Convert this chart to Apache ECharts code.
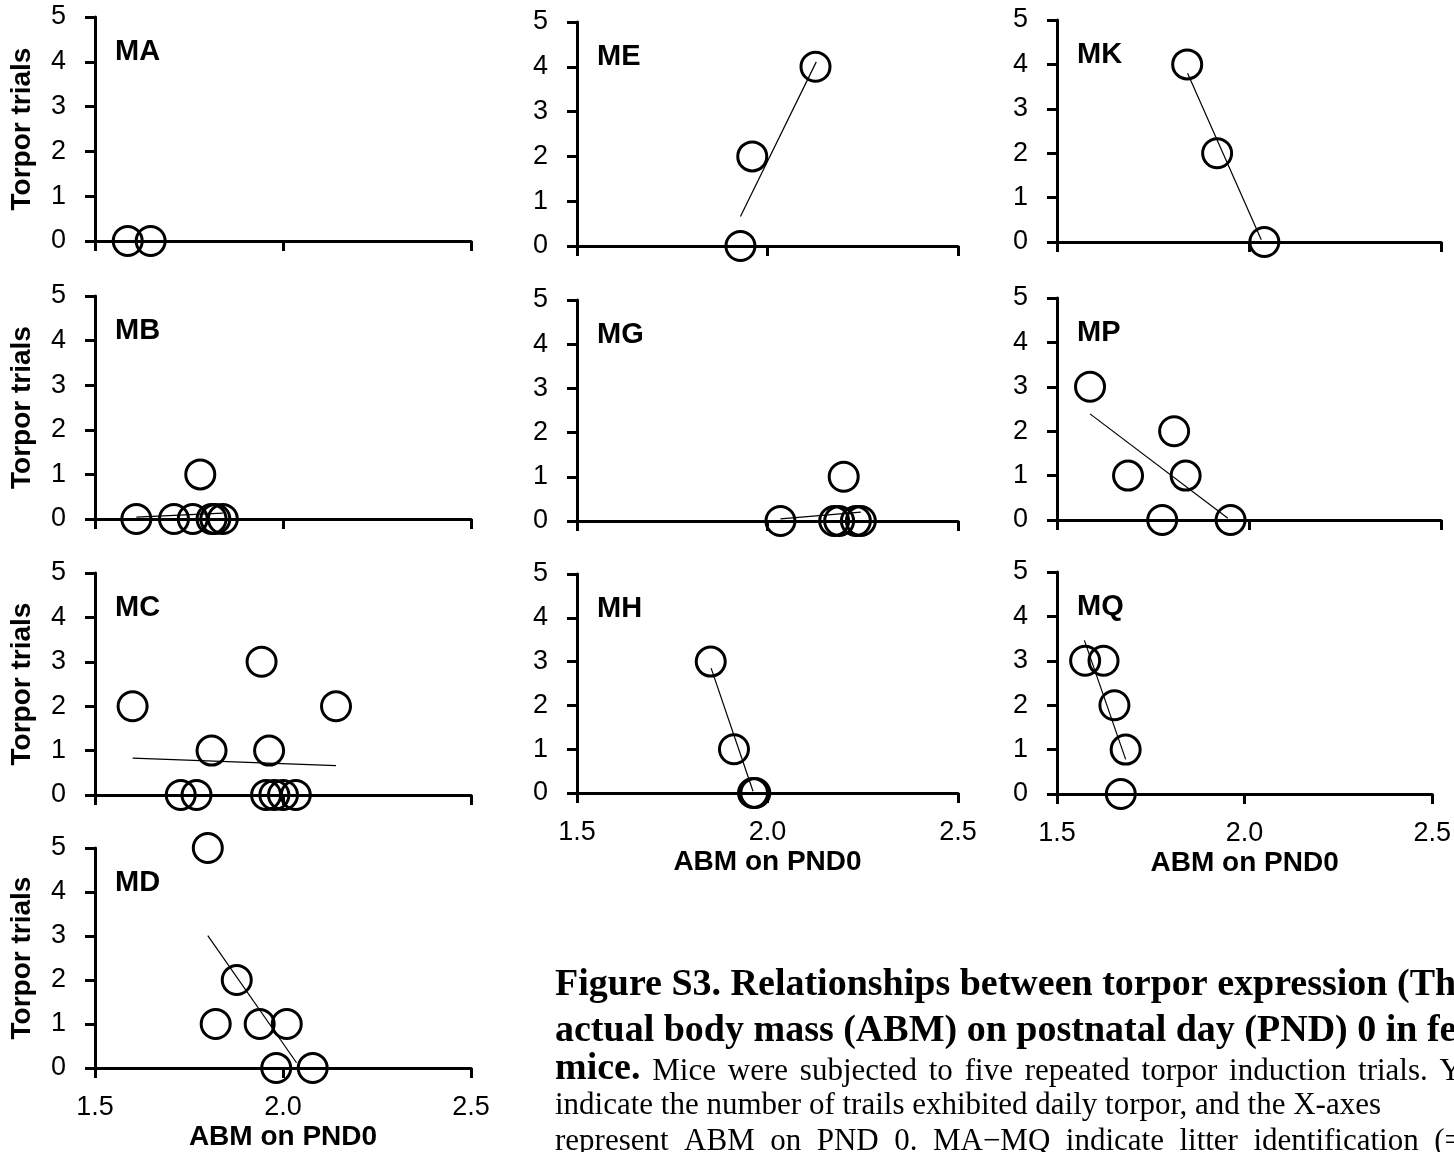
<!DOCTYPE html>
<html>
<head>
<meta charset="utf-8">
<script src="https://cdn.jsdelivr.net/npm/echarts@6/dist/echarts.min.js"></script>
<style>
html,body{margin:0;padding:0;background:#fff;overflow:hidden;}
#chart{width:1454px;height:1152px;}
</style>
</head>
<body>
<div id="chart"></div>
<script>
// ---- data (ABM on PND0 vs torpor trials) ----
const panelNames = ['MA','MB','MC','MD','ME','MG','MH','MK','MP','MQ'];

const MA_x = [1.587, 1.648];
const MA_y = [0, 0];
const MB_x = [1.61, 1.71, 1.76, 1.78, 1.81, 1.82, 1.84];
const MB_y = [0, 0, 0, 1, 0, 0, 0];
const MC_x = [1.600, 1.728, 1.770, 1.810, 1.943, 1.955, 1.963, 1.977, 2.000, 2.034, 2.141];
const MC_y = [2, 0, 0, 1, 3, 0, 1, 0, 0, 0, 2];
const MD_x = [1.800, 1.821, 1.877, 1.938, 1.982, 2.010, 2.079];
const MD_y = [5, 1, 2, 1, 0, 1, 0];
const ME_x = [1.929, 1.960, 2.126];
const ME_y = [0, 2, 4];
const MG_x = [2.034, 2.175, 2.188, 2.200, 2.232, 2.245];
const MG_y = [0, 0, 0, 1, 0, 0];
const MH_x = [1.851, 1.912, 1.962, 1.968];
const MH_y = [3, 1, 0, 0];
const MK_x = [1.839, 1.917, 2.040];
const MK_y = [4, 2, 0];
const MP_x = [1.586, 1.685, 1.774, 1.805, 1.835, 1.952];
const MP_y = [3, 1, 0, 2, 1, 0];
const MQ_x = [1.575, 1.624, 1.653, 1.670, 1.683];
const MQ_y = [3, 3, 2, 0, 1];

// trend line end points
const MA_trendX = [];             const MA_trendY = [];
const MB_trendX = [1.61, 1.84];   const MB_trendY = [0.04, 0.13];
const MC_trendX = [1.600, 2.141]; const MC_trendY = [0.83, 0.66];
const MD_trendX = [1.800, 2.036]; const MD_trendY = [3.01, 0.12];
const ME_trendX = [1.929, 2.128]; const ME_trendY = [0.66, 4.11];
const MG_trendX = [2.034, 2.245]; const MG_trendY = [0.05, 0.20];
const MH_trendX = [1.852, 1.962]; const MH_trendY = [2.85, 0.04];
const MK_trendX = [1.840, 2.032]; const MK_trendY = [3.80, 0.05];
const MP_trendX = [1.586, 1.945]; const MP_trendY = [2.39, 0.04];
const MQ_trendX = [1.573, 1.683]; const MQ_trendY = [3.46, 0.78];

const xTicks = [1.5, 2.0, 2.5];
const yTicks = [0, 1, 2, 3, 4, 5];
const yTitle = 'Torpor trials';
const xTitle = 'ABM on PND0';

const captionLines = [
  'Figure S3. Relationships between torpor expression (Th',
  'actual body mass (ABM) on postnatal day (PND) 0 in fe',
  'Mice were subjected to five repeated torpor induction trials. Y',
  'indicate the number of trails exhibited daily torpor, and the X-axes',
  'represent ABM on PND 0. MA\u2212MQ indicate litter identification (='
];
const captionLead = 'mice.';

// ---- layout (pixels) ----
const gridLeft   = [95, 95, 95, 95, 577, 577, 577, 1057, 1057, 1057];
const gridTop    = [17, 296, 573, 848, 22, 300, 574, 20, 298, 572];
const gridWidth  = [376, 376, 376, 376, 381, 381, 381, 384, 384, 384];
const gridHeight = [224, 223, 222, 221, 224, 221, 219, 222, 222, 222];
const showXLabel = [false, false, false, true, false, false, true, false, false, true];
const showYName  = [true, true, true, true, false, false, false, false, false, false];

const xsAll = [MA_x, MB_x, MC_x, MD_x, ME_x, MG_x, MH_x, MK_x, MP_x, MQ_x];
const ysAll = [MA_y, MB_y, MC_y, MD_y, ME_y, MG_y, MH_y, MK_y, MP_y, MQ_y];
const txAll = [MA_trendX, MB_trendX, MC_trendX, MD_trendX, ME_trendX, MG_trendX, MH_trendX, MK_trendX, MP_trendX, MQ_trendX];
const tyAll = [MA_trendY, MB_trendY, MC_trendY, MD_trendY, ME_trendY, MG_trendY, MH_trendY, MK_trendY, MP_trendY, MQ_trendY];

const SANS = '"Liberation Sans", Arial, sans-serif';
const SERIF = '"Liberation Serif", "Times New Roman", serif';

const grids = [], xAxes = [], yAxes = [], series = [], graphics = [];
const axisLineStyle = { color: '#000', width: 3 };

panelNames.forEach((name, i) => {
  grids.push({ left: gridLeft[i], top: gridTop[i], width: gridWidth[i], height: gridHeight[i], containLabel: false });
  xAxes.push({
    gridIndex: i, type: 'value', min: xTicks[0], max: xTicks[xTicks.length - 1],
    interval: xTicks[1] - xTicks[0],
    splitLine: { show: false },
    axisLine: { show: true, onZero: false, lineStyle: axisLineStyle },
    axisTick: { show: true, length: 10, lineStyle: { color: '#000', width: 3 } },
    axisLabel: { show: showXLabel[i], margin: 26, color: '#000', fontSize: 27, fontFamily: SANS,
                 formatter: v => v.toFixed(1) },
    name: showXLabel[i] ? xTitle : '',
    nameLocation: 'middle', nameGap: 55,
    nameTextStyle: { color: '#000', fontSize: 28, fontWeight: 'bold', fontFamily: SANS }
  });
  yAxes.push({
    gridIndex: i, type: 'value', min: yTicks[0], max: yTicks[yTicks.length - 1],
    interval: yTicks[1] - yTicks[0],
    splitLine: { show: false },
    axisLine: { show: true, onZero: false, lineStyle: axisLineStyle },
    axisTick: { show: true, length: 10, lineStyle: { color: '#000', width: 3 } },
    axisLabel: { show: true, margin: 29, color: '#000', fontSize: 27, fontFamily: SANS },
    name: showYName[i] ? yTitle : '',
    nameLocation: 'middle', nameGap: 59, nameRotate: 90,
    nameTextStyle: { color: '#000', fontSize: 28, fontWeight: 'bold', fontFamily: SANS }
  });
  const pts = xsAll[i].map((x, k) => [x, ysAll[i][k]]);
  series.push({
    type: 'scatter', xAxisIndex: i, yAxisIndex: i, data: pts, clip: false,
    symbol: 'circle', symbolSize: 29,
    itemStyle: { color: 'rgba(0,0,0,0)', borderColor: '#000', borderWidth: 3, opacity: 1 },
    emphasis: { disabled: true }, silent: true, z: 3
  });
  if (txAll[i].length) {
    series.push({
      type: 'line', xAxisIndex: i, yAxisIndex: i, clip: false,
      data: txAll[i].map((x, k) => [x, tyAll[i][k]]),
      showSymbol: false, symbol: 'none',
      lineStyle: { color: '#000', width: 1.2 }, silent: true, z: 2
    });
  }
  graphics.push({
    type: 'text', x: gridLeft[i] + 20, y: gridTop[i] + 35, silent: true,
    style: { text: name, font: 'bold 29px ' + SANS, fill: '#000',
             align: 'left', verticalAlign: 'middle', textAlign: 'left', textVerticalAlign: 'middle' }
  });
});

// ---- caption ----
const capX = 555;
const capY = [985, 1031, 1072, 1106, 1142];
const boldCap = 'bold 38px ' + SERIF;
const regCap = '31px ' + SERIF;
const capStyle = { fill: '#000', align: 'left', verticalAlign: 'middle', textAlign: 'left', textVerticalAlign: 'middle' };
function addText(text, x, y, font) {
  graphics.push({ type: 'text', x: x, y: y, silent: true,
    style: Object.assign({ text: text, font: font }, capStyle) });
}
const measureCtx = document.createElement('canvas').getContext('2d');
function textWidth(t, font) { measureCtx.font = font; return measureCtx.measureText(t).width; }
// justified line: words spread between startX and endX
function addJustified(words, y, startX, endX) {
  const widths = words.map(w => textWidth(w.t, w.f));
  const total = widths.reduce((a, b) => a + b, 0);
  const spaceW = textWidth(' ', regCap);
  const gap = Math.max(spaceW, (endX - startX - total) / (words.length - 1));
  let x = startX;
  words.forEach((w, k) => { addText(w.t, x, y + (w.dy || 0), w.f); x += widths[k] + gap; });
}

addText(captionLines[0], capX, capY[0], boldCap);
addText(captionLines[1], capX, capY[1], boldCap);
addJustified([{ t: captionLead, f: boldCap, dy: -3 }].concat(
  captionLines[2].split(' ').map(t => ({ t: t, f: regCap }))), capY[2], capX, 1462);
addText(captionLines[3], capX, capY[3], regCap);
addJustified(captionLines[4].split(' ').map(t => ({ t: t, f: regCap })), capY[4], capX, 1462);

const chart = echarts.init(document.getElementById('chart'), null, { renderer: 'canvas' });
chart.setOption({
  backgroundColor: '#fff',
  animation: false,
  grid: grids, xAxis: xAxes, yAxis: yAxes, series: series,
  graphic: { elements: graphics }
});
</script>
</body>
</html>
